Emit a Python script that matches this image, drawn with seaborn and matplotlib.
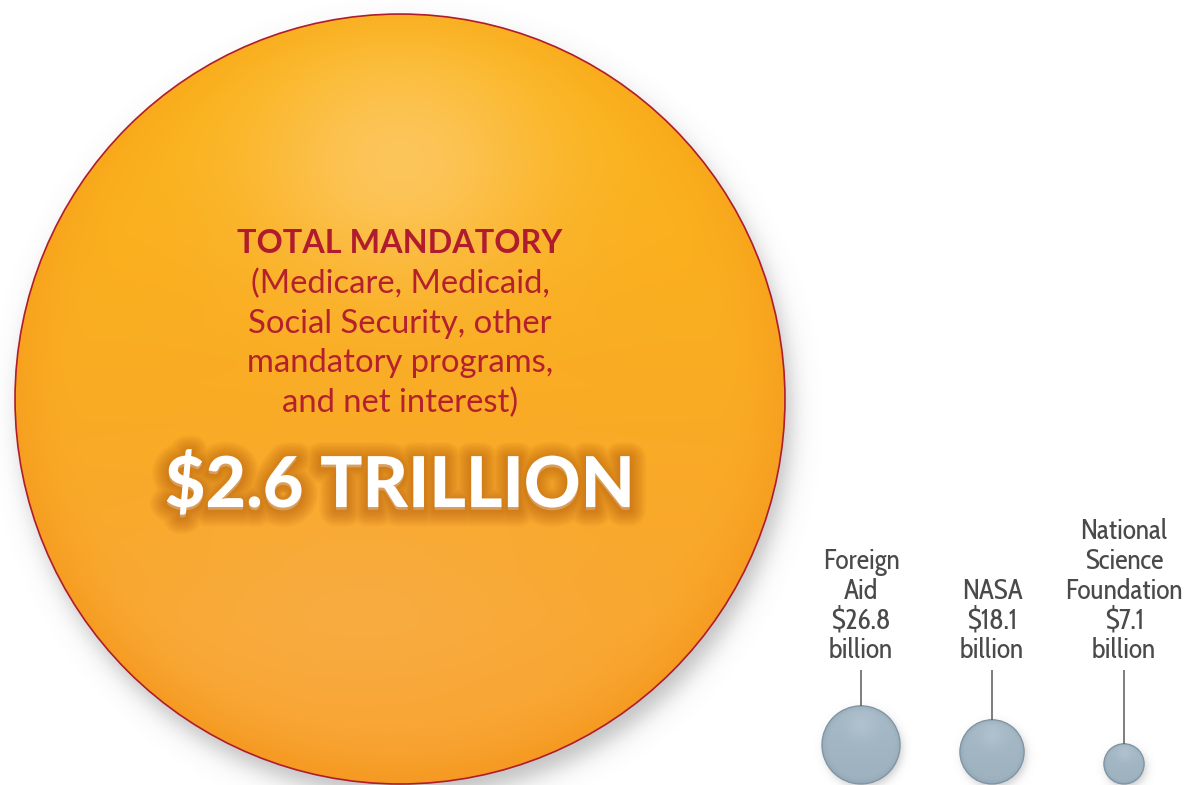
import numpy as np
import pandas as pd
import matplotlib
matplotlib.use("Agg")
import matplotlib.pyplot as plt
import matplotlib.patheffects as pe
from matplotlib.colors import to_rgb
from matplotlib.patches import Circle
import seaborn as sns

# Federal spending, billions of dollars
programs = ["Total Mandatory", "Foreign Aid", "NASA", "National Science Foundation"]
spending = [2600.0, 26.8, 18.1, 7.1]
name_lines = ["TOTAL MANDATORY", "Foreign\nAid", "NASA", "National\nScience\nFoundation"]
mandatory_note = "(Medicare, Medicaid,\nSocial Security, other\nmandatory programs,\nand net interest)"

# ---- layout -------------------------------------------------------------
W, H, DPI = 1188, 785, 100
PX_PER_ROOT = 7.55          # circle radius (px) per sqrt(billion $) -> area ~ spending
GROUND = 784                # all bubbles rest on this line
centers_x = [400, 861, 992, 1124]
STEM_TOP = 670
LABEL_BOTTOM = 665

ORANGE = "#f8a521"
STEEL = "#a2b5c3"
RED = "#b01c2d"
LABEL_GREY = "#4a4a4a"

sns.set_theme(style="white")
fig = plt.figure(figsize=(W / DPI, H / DPI), dpi=DPI)
ax = fig.add_axes([0, 0, 1, 1])

radii = PX_PER_ROOT * np.sqrt(spending)
df = pd.DataFrame({
    "program": programs,
    "spending": spending,
    "x": centers_x,
    "y": GROUND - radii,
    "r": radii,
})

# marker area in pt^2 for the largest bubble; seaborn scales the rest linearly
s_max = (2 * radii.max() * 72 / DPI) ** 2
sizes_pt = df["spending"] / df["spending"].max() * s_max

palette = {p: (ORANGE if i == 0 else STEEL) for i, p in enumerate(programs)}
sns.scatterplot(data=df, x="x", y="y", hue="program", palette=palette,
                size="spending", sizes=(0, s_max), size_norm=(0, df["spending"].max()),
                edgecolor="none", legend=False, ax=ax, zorder=2)


def mix(a, b, w):
    a = np.asarray(to_rgb(a)); b = np.asarray(to_rgb(b))
    return a * (1 - w[..., None]) + b * w[..., None]


def orange_shade(u, v):
    t = (v + 1) / 2
    rgb = mix("#fbb516", "#f8a232", t)
    hi = 0.85 * np.exp(-((u / 0.38) ** 2 + ((v + 0.62) / 0.32) ** 2))
    rgb = rgb * (1 - hi[..., None]) + np.asarray(to_rgb("#fdc966")) * hi[..., None]
    low = 0.55 * np.exp(-(((u + 0.1) / 0.6) ** 2 + ((v - 0.55) / 0.3) ** 2))
    rgb = rgb * (1 - low[..., None]) + np.asarray(to_rgb("#f9b04f")) * low[..., None]
    d = np.sqrt(u ** 2 + v ** 2)
    rim = np.clip((d - 0.82) / 0.18, 0, 1) ** 2 * (0.25 + 0.5 * t)
    rgb = rgb * (1 - rim[..., None]) + np.asarray(to_rgb("#f4961a")) * rim[..., None]
    return rgb


def steel_shade(u, v):
    t = (v + 1) / 2
    rgb = mix("#a7bac7", "#9db1bf", t)
    hi = 0.6 * np.exp(-((u / 0.35) ** 2 + ((v + 0.5) / 0.35) ** 2))
    rgb = rgb * (1 - hi[..., None]) + np.asarray(to_rgb("#b7c8d4")) * hi[..., None]
    d = np.sqrt(u ** 2 + v ** 2)
    rim = np.clip((d - 0.8) / 0.2, 0, 1) ** 2 * 0.5
    rgb = rgb * (1 - rim[..., None]) + np.asarray(to_rgb("#8aa0b0")) * rim[..., None]
    return rgb


def soft_shadow(cx, cy, r, dx, dy, blur, strength):
    pad = r * 0.15 + 3 * blur
    x0, x1 = cx - r - pad, cx + r + pad
    y0, y1 = cy - r - pad, cy + r + pad
    xs = np.linspace(x0, x1, int(x1 - x0) + 1)
    ys = np.linspace(y0, y1, int(y1 - y0) + 1)
    X, Y = np.meshgrid(xs, ys)
    ds = np.hypot(X - (cx + dx), Y - (cy + dy))
    a = strength / (1 + np.exp((ds - r) / blur))
    img = np.zeros(X.shape + (4,))
    img[..., :3] = 0.45
    img[..., 3] = a
    ax.imshow(img, extent=(x0, x1, y1, y0), origin="upper", zorder=1,
              interpolation="bilinear", aspect="auto")


def shaded_fill(cx, cy, r, shade):
    n = int(2 * r) + 2
    lin = np.linspace(-1, 1, n)
    U, V = np.meshgrid(lin, lin)
    img = np.clip(shade(U, V), 0, 1)
    im = ax.imshow(img, extent=(cx - r, cx + r, cy + r, cy - r), origin="upper",
                   zorder=3, interpolation="bilinear", aspect="auto")
    im.set_clip_path(Circle((cx, cy), r, transform=ax.transData))


for i, row in df.iterrows():
    if i == 0:
        soft_shadow(row.x, row.y, row.r, 6, 14, 7, 0.45)
        shaded_fill(row.x, row.y, row.r, orange_shade)
    else:
        soft_shadow(row.x, row.y, row.r, 2, 4, 2.5, 0.35)
        shaded_fill(row.x, row.y, row.r, steel_shade)

# crisp outlines on top of the shading
ax.scatter(df["x"], df["y"], s=sizes_pt, facecolors="none",
           edgecolors=[RED, "#7f94a3", "#7f94a3", "#7f94a3"],
           linewidths=[1.2, 0.9, 0.9, 0.9], zorder=4)

# stems from label to bubble
for i, row in df.iloc[1:].iterrows():
    ax.plot([row.x, row.x], [STEM_TOP, row.y - row.r], color="#5a5a5a", lw=1.1,
            zorder=4, solid_capstyle="butt")

# labels for the small programs
narrow = ["Cabin Condensed", "DejaVu Sans"]
for i, row in df.iloc[1:].iterrows():
    txt = f"{name_lines[i]}\n${row.spending:g}\nbillion"
    ax.text(row.x, LABEL_BOTTOM, txt, ha="center", va="bottom", fontsize=20,
            family=narrow, color=LABEL_GREY, linespacing=1.08, zorder=5)

# text inside the mandatory bubble
big = df.iloc[0]
ax.text(big.x, 253, name_lines[0], ha="center", va="baseline", fontsize=23.3,
        family="Lato", weight="bold", color=RED, zorder=5)
ax.text(big.x, 269, mandatory_note, ha="center", va="top", fontsize=23.6,
        family="Lato", color="#b5202f", linespacing=1.385, zorder=5)

# soft dark haze behind the headline figure
glow = [pe.Stroke(linewidth=w, foreground="#a34808", alpha=0.05, offset=(0, -2),
                  joinstyle="round", capstyle="round")
        for w in np.linspace(24, 3, 10)]
glow.append(pe.Normal())
ax.text(big.x, 507, f"${big.spending / 1000:g} TRILLION", ha="center", va="baseline",
        fontsize=50.5, family="Lato", weight="black", color="white",
        path_effects=glow, zorder=6)

ax.set_xlim(0, W)
ax.set_ylim(H, 0)
ax.axis("off")
fig.savefig("out.png", dpi=DPI, facecolor="white")
